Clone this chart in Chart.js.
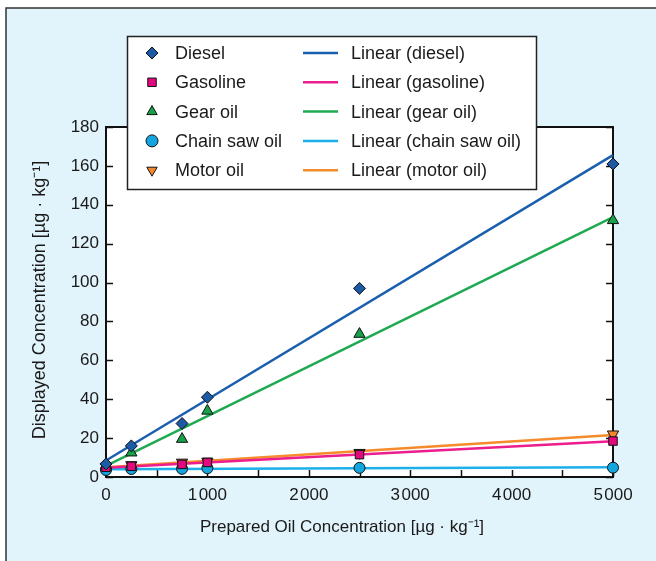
<!DOCTYPE html>
<html>
<head>
<meta charset="utf-8">
<script src="https://cdn.jsdelivr.net/npm/chart.js@4"></script>
<style>
  html, body { margin: 0; padding: 0; background: #ffffff; }
  #chart { display: block; }
</style>
</head>
<body>
<canvas id="chart" width="656" height="561"></canvas>
<script>
// prepared oil concentration (µg/kg) and displayed readings per oil type
const concentrations = [0, 250, 750, 1000, 2500, 5000];
const diesel = [6.7, 16, 27.5, 41, 97, 161];
const gasoline = [5, 5.5, 6.5, 7.5, 11.5, 18.5];
const gearOil = [6, 12.5, 19.5, 34, 73.5, 132];
const chainSawOil = [3.6, 4.1, 4.2, 4.5, 4.7, 4.8];
const motorOil = [5.3, 6.2, 7.5, 8, 12.5, 22];

const seriesNames = ['Diesel', 'Gasoline', 'Gear oil', 'Chain saw oil', 'Motor oil'];
const trendNames = ['Linear (diesel)', 'Linear (gasoline)', 'Linear (gear oil)', 'Linear (chain saw oil)', 'Linear (motor oil)'];
const xTicks = [0, 1000, 2000, 3000, 4000, 5000];
const yTicks = [0, 20, 40, 60, 80, 100, 120, 140, 160, 180];

const markerColors = ['#1c5aa6', '#e4087e', '#17a24a', '#12a5e0', '#f5862a'];
const lineColors = ['#1a5fae', '#ec1d8c', '#1faa52', '#1bb0ea', '#f68b2c'];
const markerStyles = ['rectRot', 'rect', 'triangle', 'circle', 'triangle'];
const markerRotation = [0, 0, 0, 0, 180];
const markerRadius = [6, 6, 6.5, 5.5, 6.5];

const FONT = "'Liberation Sans', Arial, sans-serif";
const allSeries = [diesel, gasoline, gearOil, chainSawOil, motorOil];

// least squares fit, drawn over the x range like a spreadsheet trendline
function linearFit(xs, ys) {
  const n = xs.length;
  const mx = xs.reduce((a, b) => a + b, 0) / n;
  const my = ys.reduce((a, b) => a + b, 0) / n;
  let sxy = 0, sxx = 0;
  for (let i = 0; i < n; i++) {
    sxy += (xs[i] - mx) * (ys[i] - my);
    sxx += (xs[i] - mx) * (xs[i] - mx);
  }
  const slope = sxy / sxx;
  return { slope, intercept: my - slope * mx };
}

const datasets = [];
allSeries.forEach((ys, i) => {
  const fit = linearFit(concentrations, ys);
  datasets.push({
    label: trendNames[i],
    data: [0, 5000].map(x => ({ x, y: fit.intercept + fit.slope * x })),
    showLine: true,
    borderColor: lineColors[i],
    borderWidth: 2.5,
    pointRadius: 0,
    clip: false,
    order: 2
  });
});
allSeries.forEach((ys, i) => {
  datasets.push({
    label: seriesNames[i],
    data: concentrations.map((x, k) => ({ x, y: ys[k] })),
    showLine: false,
    pointStyle: markerStyles[i],
    pointRotation: markerRotation[i],
    pointRadius: markerRadius[i],
    pointBackgroundColor: markerColors[i],
    pointBorderColor: '#111111',
    pointBorderWidth: 1,
    clip: false,
    order: 1
  });
});

function drawMarker(ctx, style, x, y, r, rot, fill) {
  ctx.save();
  ctx.translate(x, y);
  ctx.rotate(rot * Math.PI / 180);
  ctx.beginPath();
  if (style === 'circle') {
    ctx.arc(0, 0, r, 0, Math.PI * 2);
  } else if (style === 'rect') {
    const h = r * Math.SQRT1_2;
    ctx.rect(-h, -h, 2 * h, 2 * h);
  } else if (style === 'rectRot') {
    ctx.moveTo(0, -r); ctx.lineTo(r, 0); ctx.lineTo(0, r); ctx.lineTo(-r, 0); ctx.closePath();
  } else {
    for (let k = 0; k < 3; k++) {
      const a = k * 2 * Math.PI / 3;
      ctx[k ? 'lineTo' : 'moveTo'](Math.sin(a) * r, -Math.cos(a) * r);
    }
    ctx.closePath();
  }
  ctx.fillStyle = fill;
  ctx.fill();
  ctx.lineWidth = 1;
  ctx.strokeStyle = '#111111';
  ctx.stroke();
  ctx.restore();
}

const framePlugin = {
  id: 'frame',
  beforeDraw(chart) {
    const ctx = chart.ctx;
    ctx.save();
    ctx.fillStyle = '#ffffff';
    ctx.fillRect(0, 0, chart.width, chart.height);
    ctx.fillStyle = '#e1f3fb';
    ctx.fillRect(6, 8, chart.width, chart.height);
    ctx.strokeStyle = '#333333';
    ctx.lineWidth = 1.5;
    ctx.beginPath();
    ctx.moveTo(6, chart.height + 2);
    ctx.lineTo(6, 8);
    ctx.lineTo(chart.width + 2, 8);
    ctx.stroke();
    const a = chart.chartArea;
    ctx.fillStyle = '#ffffff';
    ctx.fillRect(a.left, a.top, a.right - a.left, a.bottom - a.top);
    ctx.restore();
  },
  beforeDatasetsDraw(chart) {
    const ctx = chart.ctx;
    const a = chart.chartArea;
    const xs = chart.scales.x, ys = chart.scales.y;
    ctx.save();
    ctx.strokeStyle = '#111111';
    ctx.lineWidth = 1.5;
    ctx.beginPath();
    // inward ticks on left and right axes
    ys.ticks.forEach(t => {
      const py = Math.round(ys.getPixelForValue(t.value)) + 0.5;
      ctx.moveTo(a.left, py); ctx.lineTo(a.left + 7, py);
      ctx.moveTo(a.right, py); ctx.lineTo(a.right - 7, py);
    });
    // major and half-step ticks along the bottom
    const vals = xs.ticks.map(t => t.value);
    vals.forEach((v, k) => {
      const px = Math.round(xs.getPixelForValue(v)) + 0.5;
      ctx.moveTo(px, a.bottom); ctx.lineTo(px, a.bottom - 7);
      if (k < vals.length - 1) {
        const pm = Math.round(xs.getPixelForValue((v + vals[k + 1]) / 2)) + 0.5;
        ctx.moveTo(pm, a.bottom); ctx.lineTo(pm, a.bottom - 7);
      }
    });
    ctx.stroke();
    ctx.lineWidth = 2;
    ctx.strokeRect(a.left, a.top, a.right - a.left, a.bottom - a.top);

    // axis titles
    ctx.fillStyle = '#1a1a1a';
    ctx.textAlign = 'center';
    ctx.textBaseline = 'middle';
    ctx.font = '17px ' + FONT;
    ctx.fillText('Prepared Oil Concentration [µg · kg⁻¹]', 342, 527);
    ctx.font = '18px ' + FONT;
    ctx.translate(40, 300);
    ctx.rotate(-Math.PI / 2);
    ctx.fillText('Displayed Concentration [µg · kg⁻¹]', 0, 0);
    ctx.restore();
  },
  afterDraw(chart) {
    const ctx = chart.ctx;
    ctx.save();
    ctx.fillStyle = '#ffffff';
    ctx.fillRect(127.5, 36.5, 409, 153);
    ctx.strokeStyle = '#222222';
    ctx.lineWidth = 1.5;
    ctx.strokeRect(127.5, 36.5, 409, 153);
    ctx.font = '18px ' + FONT;
    ctx.textAlign = 'left';
    ctx.textBaseline = 'middle';
    seriesNames.forEach((name, i) => {
      const y = 53 + i * 29.3;
      drawMarker(ctx, markerStyles[i], 152, y, 6, markerRotation[i], markerColors[i]);
      ctx.fillStyle = '#1a1a1a';
      ctx.fillText(name, 175, y + 1);
      ctx.strokeStyle = lineColors[i];
      ctx.lineWidth = 2.5;
      ctx.beginPath();
      ctx.moveTo(303, y); ctx.lineTo(338, y);
      ctx.stroke();
      ctx.fillText(trendNames[i], 351, y + 1);
    });
    ctx.restore();
  }
};

new Chart(document.getElementById('chart').getContext('2d'), {
  type: 'scatter',
  data: { datasets },
  options: {
    responsive: false,
    devicePixelRatio: 1,
    animation: false,
    layout: { padding: { left: 0, top: 127, right: 43, bottom: 0 } },
    plugins: { legend: { display: false }, tooltip: { enabled: false } },
    scales: {
      x: {
        type: 'linear',
        min: 0,
        max: 5000,
        afterBuildTicks: s => { s.ticks = xTicks.map(v => ({ value: v })); },
        afterFit: s => { s.height = 84; },
        grid: { display: false, drawTicks: false },
        border: { display: false },
        ticks: {
          padding: 8,
          color: '#1a1a1a',
          font: { family: FONT, size: 17 },
          maxRotation: 0,
          callback: v => String(v).replace(/\B(?=(\d{3})+(?!\d))/g, '\u200A')
        }
      },
      y: {
        type: 'linear',
        min: 0,
        max: 180,
        afterBuildTicks: s => { s.ticks = yTicks.map(v => ({ value: v })); },
        afterFit: s => { s.width = 106; },
        grid: { display: false, drawTicks: false },
        border: { display: false },
        ticks: {
          padding: 7,
          color: '#1a1a1a',
          font: { family: FONT, size: 17 }
        }
      }
    }
  },
  plugins: [framePlugin]
});
</script>
</body>
</html>
